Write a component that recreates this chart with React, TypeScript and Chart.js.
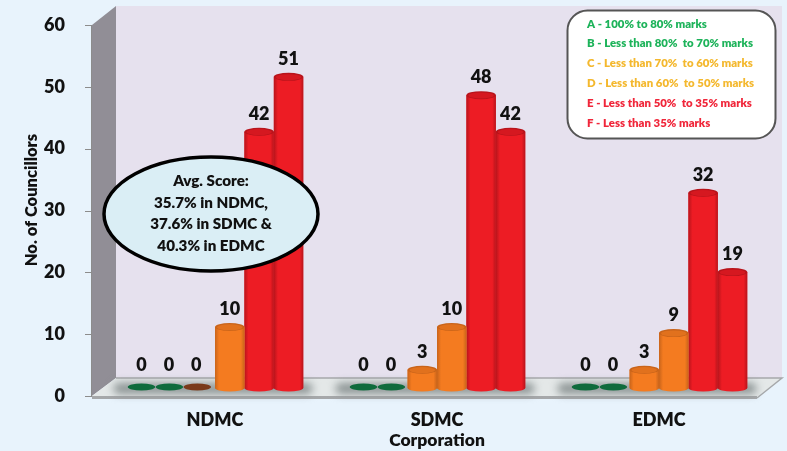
import React, { useEffect, useRef } from "react";
import { Chart, registerables } from "chart.js";

Chart.register(...registerables);

const FONT = "Lato, 'Open Sans', sans-serif";
const WEIGHT = "800";
const categories = ["NDMC", "SDMC", "EDMC"];
const gradeA = [0, 0, 0];
const gradeB = [0, 0, 0];
const gradeC = [0, 3, 3];
const gradeD = [10, 10, 9];
const gradeE = [42, 48, 32];
const gradeF = [51, 42, 19];
const yTicks = [0, 10, 20, 30, 40, 50, 60];
const legendLines = [
  "A - 100% to 80% marks",
  "B - Less than 80%  to 70% marks",
  "C - Less than 70%  to 60% marks",
  "D - Less than 60%  to 50% marks",
  "E - Less than 50%  to 35% marks",
  "F - Less than 35% marks",
];
const legendColors = ["#1DB35A", "#1DB35A", "#F4B82E", "#F4B82E", "#F0263A", "#F0263A"];
const calloutLines = ["Avg. Score:", "35.7% in NDMC,", "37.6% in SDMC &", "40.3% in EDMC"];
const seriesValues = [gradeA, gradeB, gradeC, gradeD, gradeE, gradeF];
const seriesNames = ["A", "B", "C", "D", "E", "F"];
const seriesBase = ["#12703F", "#12703F", "#F47B20", "#F47B20", "#ED1C24", "#ED1C24"];
const seriesDark = ["#0C5A30", "#0C5A30", "#C9641A", "#C9641A", "#B8141B", "#B8141B"];
const zeroColors = ["#0F6B3C", "#0F6B3C", "#7A3A1A", "#7A3A1A", "#A81218", "#A81218"];

function roundRect(c: CanvasRenderingContext2D, x: number, y: number, w: number, h: number, r: number) {
  c.beginPath();
  c.roundRect(x, y, w, h, r);
}

const scenery = {
  id: "scenery",
  beforeDraw(chart: any) {
    const c: CanvasRenderingContext2D = chart.ctx;
    const y = chart.scales.y;
    c.save();
    c.fillStyle = "#E6E1EE";
    c.fillRect(116, 6, 666, 373);
    c.fillStyle = "#918E96";
    c.beginPath();
    c.moveTo(92, 25);
    c.lineTo(116, 6);
    c.lineTo(116, 378);
    c.lineTo(92, 396);
    c.closePath();
    c.fill();
    c.fillStyle = "#E4E8E8";
    c.beginPath();
    c.moveTo(92, 396);
    c.lineTo(116, 378);
    c.lineTo(782, 378);
    c.lineTo(757, 397);
    c.closePath();
    c.fill();
    c.strokeStyle = "#A6A8AA";
    c.lineWidth = 1.5;
    c.beginPath();
    c.moveTo(116, 378);
    c.lineTo(782, 378);
    c.lineTo(757, 398);
    c.stroke();
    c.lineWidth = 3;
    c.beginPath();
    c.moveTo(92, 397.5);
    c.lineTo(757, 397.5);
    c.stroke();
    c.strokeStyle = "#8C8C8C";
    c.lineWidth = 1;
    c.beginPath();
    c.moveTo(91.5, y.getPixelForValue(60));
    c.lineTo(91.5, y.getPixelForValue(0));
    for (const t of yTicks) {
      const p = Math.round(y.getPixelForValue(t)) + 0.5;
      c.moveTo(85, p);
      c.lineTo(92, p);
    }
    c.stroke();
    c.restore();
  },
  beforeDatasetsDraw(chart: any) {
    const c: CanvasRenderingContext2D = chart.ctx;
    const first = chart.getDatasetMeta(0).data;
    const last = chart.getDatasetMeta(5).data;
    c.save();
    c.filter = "blur(4px)";
    c.fillStyle = "#8A9292";
    first.forEach((el: any, i: number) => {
      const x0 = el.x - 28;
      const x1 = last[i].x + 24;
      roundRect(c, x0, el.base - 5, x1 - x0, 11, 6);
      c.fill();
    });
    c.restore();
  },
  afterDatasetDraw(chart: any, args: any) {
    const c: CanvasRenderingContext2D = chart.ctx;
    const i = args.index;
    const meta = chart.getDatasetMeta(i);
    c.save();
    meta.data.forEach((el: any, k: number) => {
      const v = seriesValues[i][k];
      const hw = el.width / 2;
      if (v === 0) {
        c.fillStyle = zeroColors[i];
        c.beginPath();
        c.ellipse(el.x - i * 1.5, el.base - 1, hw - 1, 3.5, 0, 0, Math.PI * 2);
        c.fill();
        return;
      }
      const g = c.createLinearGradient(el.x - hw, 0, el.x + hw, 0);
      g.addColorStop(0, seriesDark[i]);
      g.addColorStop(0.14, seriesBase[i]);
      g.addColorStop(0.88, seriesBase[i]);
      g.addColorStop(1, seriesDark[i]);
      c.fillStyle = g;
      c.beginPath();
      c.moveTo(el.x - hw, el.y);
      c.lineTo(el.x - hw, el.base);
      c.ellipse(el.x, el.base, hw, 3.5, 0, Math.PI, 0, true);
      c.lineTo(el.x + hw, el.y);
      c.closePath();
      c.fill();
      c.fillStyle = seriesDark[i];
      c.beginPath();
      c.ellipse(el.x, el.y, hw, 4, 0, 0, Math.PI * 2);
      c.fill();
      c.fillStyle = seriesBase[i];
      c.globalAlpha = 0.55;
      c.beginPath();
      c.ellipse(el.x, el.y + 0.3, hw - 2, 3, 0, 0, Math.PI * 2);
      c.fill();
      c.globalAlpha = 1;
    });
    c.restore();
  },
  afterDatasetsDraw(chart: any) {
    const c: CanvasRenderingContext2D = chart.ctx;
    c.save();
    c.fillStyle = "#111111";
    c.font = `${WEIGHT} 18px ${FONT}`;
    c.textAlign = "center";
    c.textBaseline = "middle";
    seriesValues.forEach((vals, i) => {
      chart.getDatasetMeta(i).data.forEach((el: any, k: number) => {
        const v = vals[k];
        c.fillText(String(v), el.x - (v === 0 ? i * 2 : 0), el.y - (v === 0 ? 23 : 18));
      });
    });
    c.save();
    c.translate(32, 200);
    c.rotate(-Math.PI / 2);
    c.font = `${WEIGHT} 16.5px ${FONT}`;
    c.fillText("No. of Councillors", 0, 0);
    c.restore();
    c.beginPath();
    c.ellipse(211, 214, 107, 57, 0, 0, Math.PI * 2);
    c.fillStyle = "#DAEEF5";
    c.fill();
    c.lineWidth = 3.5;
    c.strokeStyle = "#000000";
    c.stroke();
    c.fillStyle = "#111111";
    c.font = `${WEIGHT} 15.2px ${FONT}`;
    calloutLines.forEach((t, i) => c.fillText(t, 211, 181 + i * 21.7));
    roundRect(c, 567.5, 10.5, 208, 128, 20);
    c.fillStyle = "#FFFFFF";
    c.fill();
    c.lineWidth = 2;
    c.strokeStyle = "#555555";
    c.stroke();
    c.font = `${WEIGHT} 11.4px ${FONT}`;
    c.textAlign = "left";
    legendLines.forEach((t, i) => {
      c.fillStyle = legendColors[i];
      c.fillText(t, 587, 24 + i * 19.8);
    });
    c.restore();
  },
};

export default function App() {
  const ref = useRef<HTMLCanvasElement>(null);
  useEffect(() => {
    document.body.style.margin = "0";
    document.body.style.background = "#E8F3FC";
    const chart = new Chart(ref.current!, {
      type: "bar",
      data: {
        labels: categories,
        datasets: seriesValues.map((data, i) => ({
          label: seriesNames[i],
          data,
          yAxisID: "yBars",
          backgroundColor: seriesBase[i],
          categoryPercentage: 0.795,
          barPercentage: 1,
        })),
      },
      options: {
        responsive: false,
        animation: false,
        layout: { autoPadding: false, padding: { top: 25, right: 17, left: 0, bottom: 0 } },
        plugins: { legend: { display: false }, tooltip: { enabled: false } },
        scales: {
          x: {
            grid: { display: false },
            border: { display: false },
            ticks: { color: "#111111", font: { family: FONT, size: 18, weight: WEIGHT }, padding: 5 },
            title: {
              display: true,
              text: "Corporation",
              color: "#111111",
              font: { family: FONT, size: 17.5, weight: WEIGHT },
              padding: { top: 0, bottom: 0 },
            },
            afterFit: (s: any) => { s.height = 55; s.paddingLeft = 0; s.paddingRight = 0; },
          },
          y: {
            min: 0,
            max: 60,
            grid: { display: false },
            border: { display: false },
            afterBuildTicks: (s: any) => { s.ticks = yTicks.map((value) => ({ value })); },
            ticks: { color: "#111111", font: { family: FONT, size: 18, weight: WEIGHT }, padding: 31 },
            afterFit: (s: any) => { s.width = 104; s.paddingTop = 0; s.paddingBottom = 0; },
          },
          yBars: { display: false, min: -1.31, max: 59.5 },
        },
      } as any,
      plugins: [scenery],
    });
    return () => chart.destroy();
  }, []);
  return <canvas ref={ref} width={787} height={451} style={{ display: "block" }} />;
}
